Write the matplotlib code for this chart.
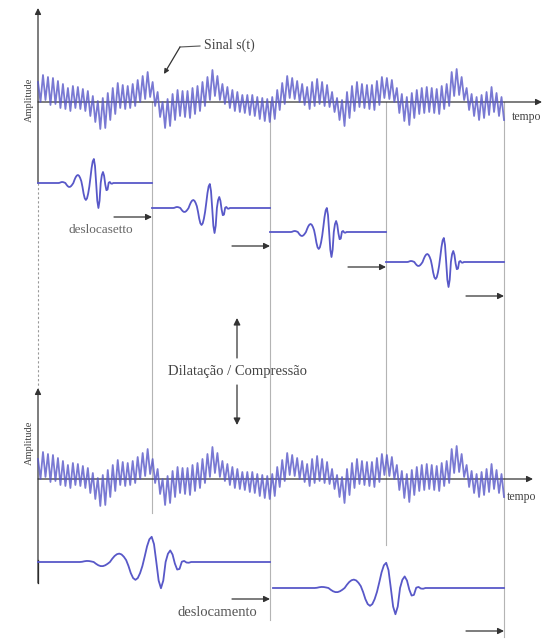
import numpy as np
import matplotlib.pyplot as plt

# sinal s(t): picos e vales de cada oscilação rápida (amplitude em px, + para cima)
pico = [20, 27, 25, 24, 21, 18, 14, 16, 15, 13,
        11, 6, 1, 4, 9, 14, 19, 17, 16, 18,
        22, 26, 30, 20, 10, 0, 3, 8, 12, 11,
        11, 14, 16, 20, 25, 32, 26, 18, 15, 12,
        10, 7, 7, 7, 5, 4, 3, 5, 12, 19,
        26, 24, 21, 18, 15, 20, 23, 20, 17, 10,
        4, 2, 10, 16, 20, 18, 17, 17, 21, 25,
        24, 22, 14, 8, 5, 9, 12, 14, 15, 14,
        13, 16, 18, 30, 33, 25, 14, 8, 5, 7,
        10, 15, 9, 5]
vale = [0, 2, -3, -2, -6, -7, -9, -6, -7, -9,
        -14, -20, -27, -26, -18, -12, -6, -7, -6, -4,
        0, 3, 5, -4, -15, -26, -24, -18, -14, -15,
        -16, -12, -9, -4, 2, 6, 2, -2, -6, -9,
        -10, -11, -13, -14, -17, -19, -20, -17, -8, -2,
        4, 3, 0, -3, -7, -4, -2, -4, -5, -10,
        -18, -24, -16, -9, -5, -6, -7, -8, -3, 4,
        3, 0, -11, -19, -23, -16, -12, -11, -10, -11,
        -12, -7, -4, 6, 7, 2, -8, -14, -18, -16,
        -13, -10, -14, -18]

# wavelet: posição relativa no intervalo e amplitude
onda_pos = [0.0] + list(np.round(np.arange(0.17, 0.675, 0.01), 2)) + [1.0]
onda = [0, 0, 0, 0.2, 0.7, 1.0, 0.9, 0.5, 0, -1.7, -3.1,
        -3.9, -3.9, -3.1, -1.7, 0, 3.1, 5.7, 7.4, 8, 7.2,
        5.0, 1.8, -3.8, -10.6, -15.3, -17, -15.3, -10.6, -3.8, 5.3,
        14.9, 21.6, 24, 17, 0, -17.7, -25, -17.7, 0, 7.8,
        11, 7.1, -1.5, -7.2, -6.6, 0.3, 1, -0.5, -0.7, 0, 0, 0]

# limites dos deslocamentos (px)
limites = [38, 152, 270, 386, 504]

azul = '#5858c8'
cinza = '#b4b4b4'
texto = '#444444'
serif = 'Liberation Serif'

fig = plt.figure(figsize=(5.5, 6.39), dpi=100)
ax = fig.add_axes([0, 0, 1, 1])
ax.set_xlim(0, 550)
ax.set_ylim(639, 0)
ax.axis('off')

sinal = np.column_stack([pico, vale]).ravel()
t_sinal = limites[0] + np.arange(len(sinal)) * (limites[-1] - limites[0]) / (len(sinal) - 1)


def seta(x0, y0, x1, y1, ms=9):
    ax.annotate('', xy=(x1, y1), xytext=(x0, y0),
                arrowprops=dict(arrowstyle='-|>', color='#333333', lw=0.9,
                                mutation_scale=ms, shrinkA=0, shrinkB=0))


# linhas verticais de referência
fundos = [513, 620, 545, 637]
for x, yb in zip(limites[1:], fundos):
    ax.plot([x, x], [102, yb], color=cinza, lw=0.8, zorder=1)
ax.plot([38, 38], [183, 388], color='#999999', lw=0.8, ls=(0, (2, 2)), zorder=1)


def painel(y0, tip_x, tip_y, fundo, lab_y, tempo_xy):
    ax.plot([38, 38], [y0 + 81, fundo], color='#222222', lw=0.9, zorder=2)
    seta(38, fundo, 38, tip_y)
    seta(38, y0, tip_x, y0)
    ax.plot(t_sinal, y0 - np.array(sinal), color=azul, lw=1.3, alpha=0.8, zorder=3)
    ax.text(29, lab_y, 'Amplitude', rotation=90, ha='center', va='center',
            fontsize=7.5, color=texto, family=serif)
    ax.text(tempo_xy[0], tempo_xy[1], 'tempo', ha='center', va='center',
            fontsize=8.5, color=texto, family=serif)


painel(102, 542, 8, 183, 100, (527, 117))
painel(479, 533, 388, 583, 443, (522, 497))

# wavelets deslocadas (escala pequena)
linhas_top = [183, 208, 232, 262]
setas_top = [217, 246, 267, 296]
for i, (yb, ys) in enumerate(zip(linhas_top, setas_top)):
    a, b = limites[i], limites[i + 1]
    xs = a + np.array(onda_pos) * (b - a)
    ax.plot(xs, yb - np.array(onda), color=azul, lw=1.3, zorder=3)
    seta(b - 38, ys, b, ys)
ax.text(101, 230, 'deslocasetto', ha='center', va='center', fontsize=9.5,
        color='#666666', family=serif)

# wavelets dilatadas
pares = [(limites[0], limites[2], 562, 599), (273, limites[4], 588, 631)]
for a, b, yb, ys in pares:
    xs = a + np.array(onda_pos) * (b - a)
    ax.plot(xs, yb - 1.05 * np.array(onda), color=azul, lw=1.3, zorder=3)
    seta(b - 38, ys, b, ys)
ax.text(217, 613, 'deslocamento', ha='center', va='center', fontsize=10.5,
        color='#555555', family=serif)

# dilatação / compressão
seta(237, 358, 237, 318, ms=10)
seta(237, 385, 237, 425, ms=10)
ax.text(237, 372, 'Dilatação / Compressão', ha='center', va='center',
        fontsize=10.5, color=texto, family=serif)

# rótulo do sinal
ax.plot([200, 180], [46, 47], color='#555555', lw=0.8)
seta(180, 47, 164, 74, ms=7)
ax.text(204, 45, 'Sinal s(t)', ha='left', va='center', fontsize=10,
        color=texto, family=serif)

fig.savefig('out.png', dpi=100)
